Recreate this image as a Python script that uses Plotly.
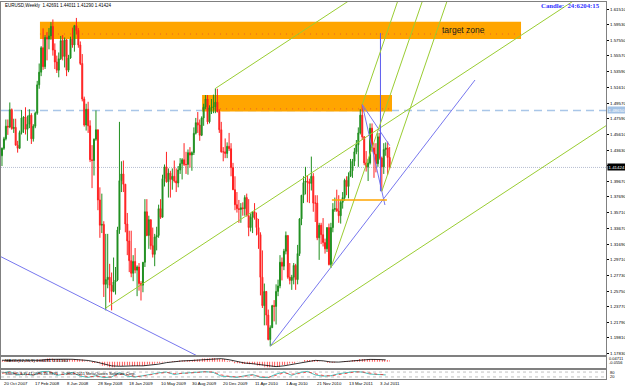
import plotly.graph_objects as go

# ---------------- data (EURUSD weekly) ----------------
first_open = 1.4290
highs = [1.4395,1.4530,1.4750,1.4750,1.4966,1.4890,1.4760,1.4760,1.4480,1.4610,
         1.4870,1.4790,1.4905,1.4800,1.4880,1.4830,1.4690,1.4850,1.5240,1.5460,
         1.5680,1.5905,1.5820,1.5860,1.5910,1.5985,1.6019,1.5715,1.5560,1.5600,
         1.5810,1.5820,1.5790,1.5770,1.5570,1.5800,1.5915,1.5950,1.6038,1.5910,
         1.5740,1.5580,1.5040,1.4950,1.4975,1.4740,1.4425,1.4510,1.4865,1.4620,
         1.3890,1.3810,1.3460,1.3300,1.3300,1.2920,1.2810,1.3000,1.2880,1.3390,
         1.4720,1.4220,1.4230,1.3930,1.3565,1.3340,1.3340,1.3030,1.3120,1.2900,
         1.2930,1.2700,1.2940,1.3740,1.3740,1.3530,1.3480,1.3380,1.3300,1.3390,
         1.3670,1.3740,1.4050,1.4180,1.4340,1.4130,1.4100,1.4130,1.4230,1.4130,
         1.4160,1.4260,1.4260,1.4450,1.4340,1.4370,1.4400,1.4345,1.4650,1.4770,
         1.4845,1.4750,1.4790,1.4950,1.5060,1.5060,1.4930,1.5010,1.5065,1.5144,
         1.5140,1.4880,1.4720,1.4400,1.4510,1.4460,1.4580,1.4450,1.4200,1.4030,
         1.3830,1.3730,1.3690,1.3700,1.3790,1.3810,1.3740,1.3560,1.3590,1.3690,
         1.3570,1.3490,1.3320,1.3090,1.2670,1.2560,1.2340,1.2140,1.2400,1.2460,
         1.2660,1.2720,1.3030,1.3000,1.3110,1.3330,1.3280,1.2930,1.2780,1.2930,
         1.2920,1.3160,1.3500,1.3790,1.4030,1.4150,1.4040,1.4000,1.4280,1.4070,
         1.3790,1.3790,1.3440,1.3440,1.3500,1.3240,1.3380,1.3430,1.3440,1.3690,
         1.3760,1.3860,1.3790,1.3730,1.3830,1.4000,1.4030,1.4080,1.4250,1.4250,
         1.4390,1.4490,1.4650,1.4880,1.4940,1.4540,1.4350,1.4250,1.4700,1.4700,
         1.4450,1.4450,1.4580,1.4580,1.4280,1.4450,1.4460,1.4470,1.44011]
lows = [1.4160,1.4365,1.4485,1.4555,1.4640,1.4620,1.4580,1.4420,1.4330,1.4380,
        1.4560,1.4580,1.4560,1.4480,1.4640,1.4440,1.4470,1.4640,1.4810,1.5140,
        1.5300,1.5380,1.5390,1.5500,1.5640,1.5760,1.5560,1.5390,1.5340,1.5285,
        1.5505,1.5500,1.5410,1.5300,1.5350,1.5520,1.5660,1.5610,1.5830,1.5660,
        1.5440,1.4980,1.4660,1.4610,1.4580,1.4210,1.3880,1.4040,1.4480,1.3600,
        1.3250,1.3310,1.2500,1.2330,1.2610,1.2430,1.2330,1.2560,1.2530,1.2700,
        1.3300,1.3830,1.3830,1.3320,1.3030,1.2815,1.2750,1.2700,1.2800,1.2510,
        1.2580,1.2455,1.2560,1.2880,1.3270,1.3110,1.3100,1.3000,1.2890,1.3090,
        1.3250,1.3490,1.3510,1.3900,1.3950,1.3760,1.3760,1.3860,1.3950,1.3830,
        1.3890,1.4060,1.3990,1.4160,1.4060,1.4050,1.4140,1.4100,1.4300,1.4560,
        1.4580,1.4480,1.4540,1.4670,1.4880,1.4690,1.4700,1.4820,1.4830,1.4830,
        1.4840,1.4580,1.4330,1.4220,1.4260,1.4260,1.4350,1.4030,1.3855,1.3600,
        1.3570,1.3440,1.3440,1.3530,1.3530,1.3520,1.3270,1.3330,1.3310,1.3480,
        1.3280,1.3110,1.2520,1.2360,1.2140,1.2140,1.1950,1.1876,1.2110,1.2190,
        1.2150,1.2510,1.2610,1.2710,1.2840,1.3040,1.2730,1.2660,1.2590,1.2660,
        1.2590,1.2660,1.3020,1.3410,1.3690,1.3800,1.3700,1.3690,1.3850,1.3580,
        1.3450,1.3220,1.2970,1.3170,1.3140,1.3050,1.3070,1.2900,1.2870,1.3320,
        1.3580,1.3580,1.3440,1.3430,1.3620,1.3720,1.3790,1.3750,1.4020,1.4010,
        1.4160,1.4310,1.4150,1.4560,1.4490,1.4170,1.4090,1.3970,1.4180,1.4340,
        1.4010,1.4080,1.4150,1.4240,1.3840,1.4060,1.4290,1.4050,1.41290]
closes = [1.4385,1.4505,1.4665,1.4655,1.4875,1.4635,1.4650,1.4425,1.4385,1.4585,
          1.4770,1.4780,1.4625,1.4690,1.4805,1.4505,1.4665,1.4830,1.5190,1.5350,
          1.5660,1.5420,1.5790,1.5770,1.5810,1.5930,1.5630,1.5480,1.5375,1.5520,
          1.5750,1.5550,1.5760,1.5375,1.5530,1.5770,1.5695,1.5940,1.5880,1.5695,
          1.5460,1.5010,1.4680,1.4880,1.4670,1.4240,1.4230,1.4500,1.4620,1.3730,
          1.3410,1.3420,1.2660,1.2720,1.2750,1.2650,1.2570,1.2690,1.2715,1.3350,
          1.3975,1.4060,1.3930,1.3425,1.3210,1.2960,1.2800,1.2950,1.2840,1.2880,
          1.2670,1.2650,1.2940,1.3580,1.3280,1.3480,1.3150,1.3040,1.3260,1.3280,
          1.3620,1.3510,1.4000,1.4150,1.3960,1.4070,1.3990,1.4030,1.3970,1.3945,
          1.4110,1.4190,1.4240,1.4180,1.4180,1.4330,1.4300,1.4330,1.4575,1.4710,
          1.4680,1.4550,1.4770,1.4910,1.5010,1.4720,1.4900,1.4905,1.4910,1.4970,
          1.4850,1.4620,1.4340,1.4340,1.4320,1.4410,1.4380,1.4140,1.3860,1.3670,
          1.3620,1.3610,1.3630,1.3620,1.3760,1.3530,1.3380,1.3510,1.3580,1.3500,
          1.3380,1.3290,1.2750,1.2390,1.2570,1.2270,1.1960,1.2110,1.2390,1.2380,
          1.2570,1.2640,1.2940,1.2890,1.3080,1.3280,1.2750,1.2710,1.2750,1.2900,
          1.2720,1.3050,1.3490,1.3790,1.3950,1.3970,1.3960,1.3940,1.4030,1.3690,
          1.3690,1.3250,1.3410,1.3290,1.3190,1.3110,1.3380,1.2910,1.3380,1.3610,
          1.3620,1.3590,1.3530,1.3700,1.3760,1.3980,1.3900,1.4030,1.4100,1.4220,
          1.4340,1.4430,1.4580,1.4805,1.4530,1.4200,1.4150,1.4200,1.4640,1.4390,
          1.4310,1.4190,1.4530,1.4260,1.4150,1.4370,1.4390,1.42691,1.41424]
opens = [first_open] + closes[:-1]          # FX weekly open = previous close
bar_idx = list(range(len(closes)))

price_labels = ["1.61510","1.59530","1.57550","1.55570","1.53590","1.51610","1.49570",
                "1.47590","1.45610","1.43630","1.41650","1.39670","1.37690","1.35710",
                "1.33670","1.31690","1.29710","1.27730","1.25750","1.23770","1.21790",
                "1.19810","1.17830"]
date_labels = ["20 Oct 2007","17 Feb 2008","8 Jun 2008","28 Sep 2008","18 Jan 2009",
               "10 May 2009","30 Aug 2009","20 Dec 2009","11 Apr 2010","1 Aug 2010",
               "21 Nov 2010","13 Mar 2011","3 Jul 2011"]
date_idx = [0,16,32,48,64,80,96,112,128,144,160,176,192]

# indicator panels (sampled every 4 weeks)
ind_idx = list(range(0, 199, 4))
macd_hist = [0.012,0.016,0.014,0.010,0.008,0.020,0.030,0.026,0.022,0.024,
             0.020,0.004,-0.012,-0.036,-0.050,-0.040,-0.034,-0.040,-0.038,-0.026,
             -0.014,0.002,0.008,0.011,0.014,0.022,0.030,0.034,0.026,0.010,
             -0.014,-0.020,-0.022,-0.034,-0.050,-0.046,-0.030,-0.016,-0.002,0.016,
             0.016,0.002,-0.008,0.000,0.008,0.016,0.026,0.024,0.020,0.016]
macd_signal = [0.014,0.014,0.014,0.012,0.010,0.014,0.022,0.026,0.024,0.023,
               0.021,0.012,-0.002,-0.020,-0.038,-0.042,-0.038,-0.038,-0.038,-0.032,
               -0.022,-0.008,0.002,0.008,0.011,0.016,0.024,0.030,0.029,0.019,
               0.002,-0.012,-0.018,-0.026,-0.040,-0.045,-0.038,-0.024,-0.010,0.006,
               0.013,0.009,-0.002,-0.003,0.003,0.010,0.019,0.022,0.021,0.018]
stoch_main = [70,85,45,55,40,85,88,40,55,75,30,15,35,12,20,75,30,20,35,55,
              70,80,50,65,70,80,85,75,30,25,15,35,50,15,12,55,80,40,75,88,
              45,30,35,60,75,85,80,55,50,45]
stoch_signal = [65,78,60,52,45,70,85,55,50,68,45,22,28,20,18,55,45,25,30,48,
                63,76,60,60,68,76,83,80,45,28,20,28,43,25,15,40,70,55,62,82,
                60,38,33,50,68,80,82,63,52,48]

# drawn objects (bar index, price)
zones = [((19.4, 265.1), (1.5771, 1.5990)), ((102.2, 199.2), (1.4851, 1.5061))]
zone_dots = [((19.4, 265.1), 1.5834), ((102.2, 199.2), 1.4885)]
hline_dash = 1.4865
last_price = 1.41424
channel_slope = 0.00163
channel_anchors = [(53, 1.2360), (109, 1.5144), (137, 1.1876)]
blue_lines = [((-5, 1.3066), (105, 1.1687)),
              ((137, 1.1876), (241.6, 1.5251)),
              ((184, 1.4940), (198, 1.4420)),
              ((184, 1.4940), (195.6, 1.3666))]
blue_vertical = (193.3, 1.3840, 1.5847)
pitch_A, pitch_B, pitch_C = (168, 1.2870), (184, 1.4940), (194, 1.3840)
orange_seg = ((168.5, 196.6), 1.3729)

# ---------------- geometry helpers (pixels -> paper) ----------------
W, H = 625, 387
ML, MR, MT, MB = 1, 19, 2, 8
PW, PH = W - ML - MR, H - MT - MB
def px(x): return (x - ML) / PW
def py(y): return (H - MB - y) / PH

XR = [-0.5, 308.5]
YR = [1.1764, 1.6240]

fig = go.Figure()
fig.add_trace(go.Candlestick(
    x=bar_idx, open=opens, high=highs, low=lows, close=closes,
    increasing=dict(line=dict(color='#1f8f1f', width=1), fillcolor='#1f8f1f'),
    decreasing=dict(line=dict(color='#ff2020', width=1), fillcolor='#ff2020'),
    whiskerwidth=0, showlegend=False, hoverinfo='skip', xaxis='x', yaxis='y'))

GREEN = '#9acd32'
BLUE = '#7777ee'
def seg(x0, y0, x1, y1, color, width=1, dash=None):
    fig.add_trace(go.Scatter(x=[x0, x1], y=[y0, y1], mode='lines',
                             line=dict(color=color, width=width, dash=dash),
                             showlegend=False, hoverinfo='skip', xaxis='x', yaxis='y'))

for (i0, p0) in channel_anchors:
    seg(i0, p0, 310, p0 + channel_slope * (310 - i0), GREEN)
for (a, b) in blue_lines:
    seg(a[0], a[1], b[0], b[1], BLUE)
seg(blue_vertical[0], blue_vertical[1], blue_vertical[0], blue_vertical[2], '#5a5aee')

mid = ((pitch_B[0] + pitch_C[0]) / 2, (pitch_B[1] + pitch_C[1]) / 2)
ps = (mid[1] - pitch_A[1]) / (mid[0] - pitch_A[0])
top_p = 1.66
for (i0, p0) in (pitch_A, pitch_B, pitch_C):
    seg(i0, p0, i0 + (top_p - p0) / ps, top_p, GREEN)
seg(orange_seg[0][0], orange_seg[1], orange_seg[0][1], orange_seg[1], '#ffa500', 1.5)

# MACD panel
fig.add_trace(go.Bar(x=ind_idx, y=macd_hist, width=4, xaxis='x2', yaxis='y2',
                     marker=dict(color='rgba(0,0,0,0)', line=dict(width=0),
                                 pattern=dict(shape='|', fgcolor='#ff3030', size=2.5,
                                              solidity=0.35, fillmode='replace')),
                     showlegend=False, hoverinfo='skip'))
fig.add_trace(go.Scatter(x=ind_idx, y=macd_signal, mode='lines', xaxis='x2', yaxis='y2',
                         line=dict(color='#000000', width=0.8), showlegend=False,
                         hoverinfo='skip'))
# Stochastic panel
fig.add_trace(go.Scatter(x=ind_idx, y=stoch_main, mode='lines', xaxis='x3', yaxis='y3',
                         line=dict(color='#20b2aa', width=0.8), showlegend=False,
                         hoverinfo='skip'))
fig.add_trace(go.Scatter(x=ind_idx, y=stoch_signal, mode='lines', xaxis='x3', yaxis='y3',
                         line=dict(color='#ff3030', width=0.8, dash='dot'), showlegend=False,
                         hoverinfo='skip'))

shapes = []
shapes.append(dict(type='line', xref='x domain', yref='y', x0=0, x1=1, y0=hline_dash,
                   y1=hline_dash, line=dict(color='#a9c6e8', width=1.5, dash='8px,5px'),
                   layer='below'))
for (xs, ys) in zones:
    shapes.append(dict(type='rect', xref='x', yref='y', x0=xs[0], x1=xs[1], y0=ys[0],
                       y1=ys[1], fillcolor='#ffa500', line=dict(width=0), layer='below'))
for (xs, yv) in zone_dots:
    shapes.append(dict(type='line', xref='x', yref='y', x0=xs[0], x1=xs[1], y0=yv, y1=yv,
                       line=dict(color='#e8602a', width=1, dash='1px,5px'), layer='below'))
shapes.append(dict(type='line', xref='x domain', yref='y', x0=0, x1=1, y0=last_price,
                   y1=last_price, line=dict(color='#a2acc4', width=0.8, dash='1px,1px'),
                   layer='below'))
for lv in (20, 80):
    shapes.append(dict(type='line', xref='x3 domain', yref='y3', x0=0, x1=1, y0=lv, y1=lv,
                       line=dict(color='#b0b0b0', width=0.8, dash='dot'), layer='below'))

FONT = 'Liberation Sans, Arial, sans-serif'
ann = []
for s in price_labels:
    ann.append(dict(xref='paper', yref='y', x=px(608), y=float(s), text=s, showarrow=False,
                    xanchor='left', yanchor='middle', font=dict(family=FONT, size=4.4,
                                                                color='#000000')))
ann.append(dict(xref='paper', yref='y', x=px(606.5), y=hline_dash, text='1.48650',
                showarrow=False, xanchor='left', yanchor='middle', bgcolor='#a4c2e4',
                borderpad=0.5, font=dict(family=FONT, size=4.4, color='#ffffff')))
ann.append(dict(xref='paper', yref='y', x=px(606.5), y=last_price, text='1.41424',
                showarrow=False, xanchor='left', yanchor='middle', bgcolor='#000000',
                borderpad=0.5, font=dict(family=FONT, size=4.4, color='#ffffff')))
for d, i in zip(date_labels, date_idx):
    ann.append(dict(xref='x', yref='paper', x=i, y=py(383.5), text=d, showarrow=False,
                    xanchor='left', yanchor='middle',
                    font=dict(family=FONT, size=4.3, color='#000000')))
texts = [
    (3, 6, 'left', 'EURUSD,Weekly\u00a0\u00a01.42691 1.44011 1.41290 1.41424', 4.5, '#000000', FONT),
    (602, 6, 'right', '<b>Candle:\u00a0\u00a024:6204:15</b>', 6.8, '#3333ff',
     'Liberation Serif, Times New Roman, serif'),
    (463, 30.5, 'center', 'target zone', 8.5, '#1a1a1a', FONT),
    (3, 360.5, 'left', 'MACD(12,26,9) 0.01181 0.01560', 4.3, '#000000', FONT),
    (3, 373.5, 'left', 'Stoch(5,3,3) 41.0596 46.9871', 4.0, '#000000', FONT),
    (60, 373.5, 'left', '\u00a9 2001-2011 MetaQuotes Software Corp.', 4.0, '#000000', FONT),
    (607, 358.5, 'left', '0.04711', 4.0, '#000000', FONT),
    (606.5, 362.8, 'left', '-0.0556', 4.0, '#000000', FONT),
    (608, 372, 'left', '80', 4.0, '#000000', FONT),
    (608, 376, 'left', '20', 4.0, '#000000', FONT),
]
for (x, y, anc, t, sz, col, fam) in texts:
    ann.append(dict(xref='paper', yref='paper', x=px(x), y=py(y), text=t, showarrow=False,
                    xanchor=anc, yanchor='middle', font=dict(family=fam, size=sz, color=col)))

axis_common = dict(showgrid=False, zeroline=False, showline=True, mirror=True,
                   linecolor='#808080', linewidth=1, fixedrange=True)
fig.update_layout(
    width=W, height=H, margin=dict(l=ML, r=MR, t=MT, b=MB),
    paper_bgcolor='#ffffff', plot_bgcolor='#ffffff', showlegend=False,
    barmode='overlay',
    xaxis=dict(domain=[0, 1], range=XR, anchor='y', showticklabels=False,
               rangeslider=dict(visible=False), **axis_common),
    yaxis=dict(domain=[py(355), 1], range=YR, side='right', anchor='x',
               tickvals=[float(s) for s in price_labels], ticks='outside', ticklen=2,
               tickcolor='#000000', showticklabels=False, **axis_common),
    xaxis2=dict(domain=[0, 1], range=XR, anchor='y2', showticklabels=False, **axis_common),
    yaxis2=dict(domain=[py(368), py(356.5)], range=[-0.058, 0.049], anchor='x2',
                showticklabels=False, ticks='', **axis_common),
    xaxis3=dict(domain=[0, 1], range=XR, anchor='y3', showticklabels=False, **axis_common),
    yaxis3=dict(domain=[0, py(370)], range=[-5, 105], anchor='x3', showticklabels=False,
                ticks='', **axis_common),
    shapes=shapes, annotations=ann,
)
fig.write_html('out.html')
